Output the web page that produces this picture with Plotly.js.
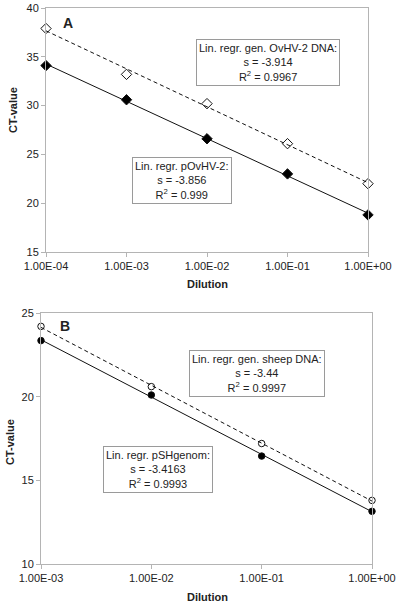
<!DOCTYPE html>
<html>
<head>
<meta charset="utf-8">
<script src="https://cdn.plot.ly/plotly-3.0.1.min.js"></script>
<style>html,body{margin:0;padding:0;background:#fff;}#chart{width:402px;height:607px;}</style>
</head>
<body>
<div id="chart"></div>
<script>
// Panel A data
const dilutionA = [1e-4, 1e-3, 1e-2, 1e-1, 1];
const genOvHV2 = [37.9, 33.2, 30.2, 26.1, 22.0];
const pOvHV2 = [34.1, 30.6, 26.6, 23.0, 18.8];
const tickTextA = ["1.00E-04", "1.00E-03", "1.00E-02", "1.00E-01", "1.00E+00"];

// Panel B data
const dilutionB = [1e-3, 1e-2, 1e-1, 1];
const genSheep = [24.2, 20.6, 17.2, 13.8];
const pSHgenom = [23.35, 20.1, 16.45, 13.15];
const tickTextB = ["1.00E-03", "1.00E-02", "1.00E-01", "1.00E+00"];

// Regression labels
const boxA1 = ["Lin. regr. gen. OvHV-2 DNA:", "s = -3.914", "R<sup>2</sup> = 0.9967"];
const boxA2 = ["Lin. regr. pOvHV-2:", "s = -3.856", "R<sup>2</sup> = 0.999"];
const boxB1 = ["Lin. regr. gen. sheep DNA:", "s = -3.44", "R<sup>2</sup> = 0.9997"];
const boxB2 = ["Lin. regr. pSHgenom:", "s = -3.4163", "R<sup>2</sup> = 0.9993"];

// least-squares fit in log10(x)
function fit(xs, ys) {
  const lx = xs.map(v => Math.log10(v));
  const n = lx.length;
  const mx = lx.reduce((a, b) => a + b, 0) / n;
  const my = ys.reduce((a, b) => a + b, 0) / n;
  let sxy = 0, sxx = 0;
  for (let i = 0; i < n; i++) { sxy += (lx[i] - mx) * (ys[i] - my); sxx += (lx[i] - mx) ** 2; }
  const s = sxy / sxx, b = my - s * mx;
  return { x: xs, y: lx.map(v => s * v + b) };
}

const W = 402, H = 607;
const px = v => v / W, py = v => 1 - v / H;
const FONT = "Liberation Sans, Arial, sans-serif";
const TXT = "#222";
const AX = "#b4b4b4";

function line(xs, ys, xa, ya, dash) {
  const f = fit(xs, ys);
  return { x: f.x, y: f.y, xaxis: xa, yaxis: ya, mode: "lines", hoverinfo: "skip",
    line: { color: "#111", width: 1, dash: dash }, showlegend: false };
}
function pts(xs, ys, xa, ya, sym, size) {
  return { x: xs, y: ys, xaxis: xa, yaxis: ya, mode: "markers", showlegend: false,
    marker: { symbol: sym, size: size, color: sym.indexOf("open") >= 0 ? "#111" : "#000",
      line: { color: "#111", width: 1 } }, cliponaxis: false };
}

const data = [
  line(dilutionA, genOvHV2, "x", "y", "4px,3px"),
  line(dilutionA, pOvHV2, "x", "y", "solid"),
  pts(dilutionA, genOvHV2, "x", "y", "diamond-open", 8),
  pts(dilutionA, pOvHV2, "x", "y", "diamond", 8),
  line(dilutionB, genSheep, "x2", "y2", "4px,3px"),
  line(dilutionB, pSHgenom, "x2", "y2", "solid"),
  pts(dilutionB, genSheep, "x2", "y2", "circle-open", 6.5),
  pts(dilutionB, pSHgenom, "x2", "y2", "circle", 6.5)
];

function xax(dom, anchor, vals, txt) {
  return { domain: dom, anchor: anchor, type: "log", range: [Math.log10(vals[0]), Math.log10(vals[vals.length - 1])],
    tickvals: vals, ticktext: txt, ticks: "outside", ticklen: 4, tickcolor: AX, showline: true, linecolor: AX,
    linewidth: 1, mirror: true, showgrid: false, zeroline: false, tickfont: { family: FONT, size: 11, color: TXT } };
}
function yax(dom, anchor, range, dt) {
  return { domain: dom, anchor: anchor, range: range, dtick: dt, tick0: 0, ticks: "outside", ticklen: 4, tickcolor: AX,
    showline: true, linecolor: AX, linewidth: 1, mirror: true, showgrid: false, zeroline: false,
    tickfont: { family: FONT, size: 11, color: TXT } };
}

function box(lines, cx, cy) {
  return { text: lines.join("<br>"), xref: "paper", yref: "paper", x: px(cx), y: py(cy),
    xanchor: "center", yanchor: "middle", showarrow: false, align: "center",
    bordercolor: "#9a9a9a", borderwidth: 1, borderpad: 2, bgcolor: "#fff",
    font: { family: FONT, size: 11, color: TXT } };
}
function lab(text, cx, cy, size, angle) {
  return { text: text, xref: "paper", yref: "paper", x: px(cx), y: py(cy), xanchor: "center", yanchor: "middle",
    showarrow: false, textangle: angle || 0, font: { family: FONT, size: size, color: TXT } };
}

const layout = {
  width: W, height: H, margin: { l: 0, r: 0, t: 0, b: 0 },
  paper_bgcolor: "#fff", plot_bgcolor: "#fff", showlegend: false,
  xaxis: xax([px(46), px(368)], "y", dilutionA, tickTextA),
  yaxis: yax([py(252), py(8)], "x", [15, 40], 5),
  xaxis2: xax([px(41), px(372)], "y2", dilutionB, tickTextB),
  yaxis2: yax([py(564), py(313)], "x2", [10, 25], 5),
  annotations: [
    box(boxA1, 267.5, 62),
    box(boxA2, 182, 180.5),
    box(boxB1, 257, 373),
    box(boxB2, 158, 469.5),
    lab("<b>A</b>", 68, 23, 14),
    lab("<b>B</b>", 65, 326, 14),
    lab("<b>Dilution</b>", 207, 284, 11),
    lab("<b>Dilution</b>", 207, 597, 11),
    lab("<b>CT-value</b>", 13, 110, 11, -90),
    lab("<b>CT-value</b>", 10, 442, 11, -90)
  ]
};

Plotly.newPlot("chart", data, layout, { staticPlot: true, displayModeBar: false });
</script>
</body>
</html>
